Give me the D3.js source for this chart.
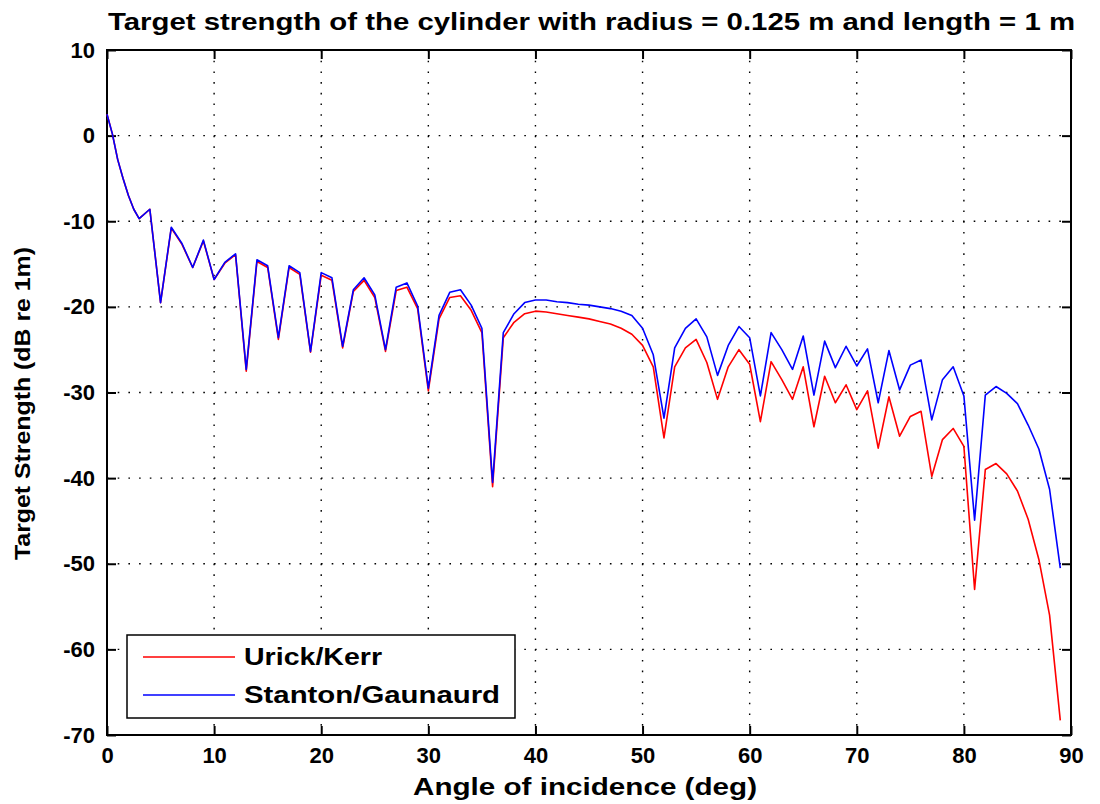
<!DOCTYPE html>
<html lang="en">
<head>
<meta charset="UTF-8">
<title>target strength</title>
<style>
  body { margin: 0; background: #fff; }
  text { font-family: "Liberation Sans", Arial, sans-serif; font-weight: bold; fill: #000; }
  .grid line { stroke: #000; stroke-width: 1.4; stroke-dasharray: 1.6, 9.1; }
  .axis path { display: none; }
  .axis line { stroke: #000; stroke-width: 2; }
  .axis text { font-size: 22px; }
</style>
</head>
<body>
<svg id="chart" width="1100" height="804"></svg>
<script src="https://cdn.jsdelivr.net/npm/d3@7"></script>
<script>
// angle of incidence (deg)
const angles = [0, 0.5, 1, 1.5, 2, 2.5, 3, 4, 5, 6, 7, 8, 9, 10, 11, 12, 13, 14, 15, 16, 17, 18, 19, 20,
  21, 22, 23, 24, 25, 26, 27, 28, 29, 30, 31, 32, 33, 34, 35, 36, 37, 38, 39, 40,
  41, 42, 43, 44, 45, 46, 47, 48, 49, 50, 51, 52, 53, 54, 55, 56, 57, 58, 59, 60,
  61, 62, 63, 64, 65, 66, 67, 68, 69, 70, 71, 72, 73, 74, 75, 76, 77, 78, 79, 80,
  81, 82, 83, 84, 85, 86, 87, 88, 89];

// Urick/Kerr (dB re 1m)
const urickKerr = [2.5, 0.2, -2.8, -5.0, -7.0, -8.6, -9.7, -8.6, -19.5, -10.8, -12.7, -15.4, -12.3, -16.8, -14.9, -13.9, -27.5, -14.7, -15.4, -23.8, -15.4, -16.2, -25.3, -16.3,
  -16.9, -24.8, -18.2, -16.9, -18.9, -25.2, -18.1, -17.7, -20.2, -29.8, -21.4, -18.9, -18.7, -20.4, -23.0, -41.0, -23.6, -21.8, -20.8, -20.5,
  -20.6, -20.8, -21.0, -21.2, -21.4, -21.7, -22.0, -22.5, -23.2, -24.5, -27.0, -35.3, -27.0, -24.8, -23.8, -26.5, -30.8, -27.0, -25.0, -26.7,
  -33.4, -26.4, -28.5, -30.8, -27.0, -34.0, -28.1, -31.2, -29.1, -32.0, -29.8, -36.5, -30.5, -35.1, -32.8, -32.2, -39.8, -35.5, -34.2, -36.3,
  -53.0, -39.0, -38.3, -39.5, -41.5, -44.8, -49.5, -56.0, -68.3];

// Stanton/Gaunaurd (dB re 1m)
const stantonGaunaurd = [2.5, 0.2, -2.8, -5.0, -7.0, -8.6, -9.7, -8.6, -19.5, -10.7, -12.6, -15.4, -12.2, -16.8, -14.8, -13.8, -27.3, -14.5, -15.2, -23.6, -15.2, -16.0, -25.2, -16.0,
  -16.6, -24.6, -18.0, -16.6, -18.6, -25.0, -17.7, -17.2, -19.9, -29.5, -21.0, -18.3, -18.0, -19.8, -22.5, -40.5, -23.0, -20.8, -19.5, -19.2,
  -19.2, -19.4, -19.5, -19.7, -19.8, -20.0, -20.2, -20.5, -21.0, -22.5, -25.6, -33.0, -24.8, -22.5, -21.4, -23.5, -28.0, -24.5, -22.3, -23.6,
  -30.4, -23.0, -25.0, -27.3, -23.4, -30.3, -24.0, -27.1, -24.6, -26.9, -24.9, -31.2, -25.1, -29.7, -26.8, -26.2, -33.2, -28.5, -27.0, -30.4,
  -44.9, -30.3, -29.3, -30.1, -31.3, -33.8, -36.6, -41.3, -50.5];

const xTicks = [0, 10, 20, 30, 40, 50, 60, 70, 80, 90];
const yTicks = [10, 0, -10, -20, -30, -40, -50, -60, -70];

const plotL = 107, plotR = 1071, plotT = 50, plotB = 735;

const svg = d3.select("#chart");

let x = d3.scaleLinear().domain([0, 90]).range([plotL, plotR]);
let y = d3.scaleLinear().domain([-70, 10]).range([plotB, plotT]);
let plain = d => String(d);   // hyphen minus, like matlab

// grid
svg.append("g").attr("class", "grid")
  .selectAll("line").data(xTicks.slice(1, -1)).join("line")
  .attr("x1", d => x(d)).attr("x2", d => x(d))
  .attr("y1", plotT).attr("y2", plotB);
svg.append("g").attr("class", "grid")
  .selectAll("line").data(yTicks.slice(1, -1)).join("line")
  .attr("x1", plotL).attr("x2", plotR)
  .attr("y1", d => y(d)).attr("y2", d => y(d));

// axes, ticks pointing inward on all four sides
svg.append("g").attr("class", "axis")
  .attr("transform", "translate(0," + plotB + ")")
  .call(d3.axisBottom(x).tickValues(xTicks).tickSize(-9).tickPadding(12).tickFormat(plain));
svg.append("g").attr("class", "axis")
  .attr("transform", "translate(" + plotL + ",0)")
  .call(d3.axisLeft(y).tickValues(yTicks).tickSize(-9).tickPadding(12).tickFormat(plain));
svg.append("g").attr("class", "axis")
  .attr("transform", "translate(0," + plotT + ")")
  .call(d3.axisTop(x).tickValues(xTicks).tickSize(-9).tickFormat(""));
svg.append("g").attr("class", "axis")
  .attr("transform", "translate(" + plotR + ",0)")
  .call(d3.axisRight(y).tickValues(yTicks).tickSize(-9).tickFormat(""));

svg.append("rect")
  .attr("x", plotL).attr("y", plotT)
  .attr("width", plotR - plotL).attr("height", plotB - plotT)
  .attr("fill", "none").attr("stroke", "#000").attr("stroke-width", 2);

// curves
const series = [
  { name: "Urick/Kerr", values: urickKerr, color: "#ff0000", len: 138 },
  { name: "Stanton/Gaunaurd", values: stantonGaunaurd, color: "#0000ff", len: 256 }
];

let line = d3.line()
  .x(d => x(d[0]))
  .y(d => y(d[1]));

series.forEach(s => {
  svg.append("path")
    .datum(angles.map((a, i) => [a, s.values[i]]))
    .attr("d", line)
    .attr("fill", "none")
    .attr("stroke", s.color)
    .attr("stroke-width", 1.6)
    .attr("stroke-linejoin", "round");
});

// legend
let legend = svg.append("g").attr("transform", "translate(127,635)");
legend.append("rect")
  .attr("width", 388).attr("height", 83)
  .attr("fill", "#fff").attr("stroke", "#000").attr("stroke-width", 1.5);
series.forEach((s, i) => {
  let ly = 22 + i * 38;
  legend.append("line")
    .attr("x1", 16).attr("x2", 108).attr("y1", ly).attr("y2", ly)
    .attr("stroke", s.color).attr("stroke-width", 1.6);
  legend.append("text")
    .attr("x", 117).attr("y", ly).attr("dy", "0.36em")
    .attr("textLength", s.len).attr("lengthAdjust", "spacingAndGlyphs")
    .style("font-size", "23px")
    .text(s.name);
});

// titles
svg.append("text")
  .attr("x", 108).attr("y", 30)
  .attr("textLength", 967).attr("lengthAdjust", "spacingAndGlyphs")
  .style("font-size", "23px")
  .text("Target strength of the cylinder with radius = 0.125 m and length = 1 m");

svg.append("text")
  .attr("x", 413).attr("y", 795)
  .attr("textLength", 344).attr("lengthAdjust", "spacingAndGlyphs")
  .style("font-size", "24px")
  .text("Angle of incidence (deg)");

svg.append("text")
  .attr("transform", "translate(30,560) rotate(-90)")
  .attr("textLength", 313).attr("lengthAdjust", "spacingAndGlyphs")
  .style("font-size", "22px")
  .text("Target Strength (dB re 1m)");
</script>
</body>
</html>
